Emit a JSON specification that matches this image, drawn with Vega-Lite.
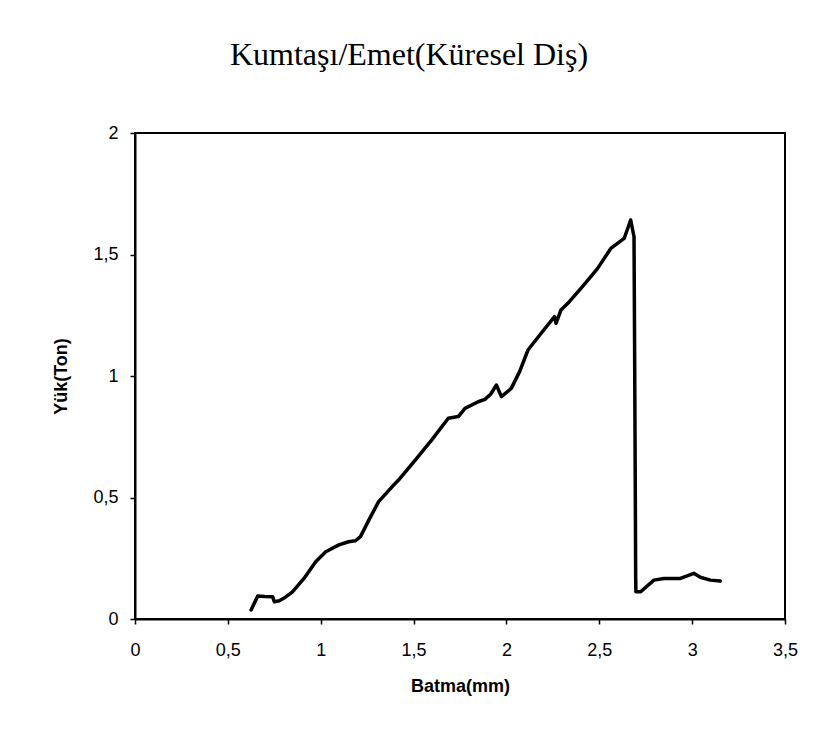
{
  "$schema": "https://vega.github.io/schema/vega-lite/v6.json",
  "width": 650,
  "height": 486,
  "autosize": {"type": "none"},
  "padding": {"left": 135, "top": 133, "right": 39, "bottom": 120},
  "background": "white",
  "title": {
    "text": "Kumtaşı/Emet(Küresel Diş)",
    "font": "Liberation Serif",
    "fontSize": 32,
    "fontWeight": "normal",
    "color": "black",
    "anchor": "middle",
    "dx": -51,
    "baseline": "alphabetic",
    "offset": 27
  },
  "config": {
    "view": {"stroke": "black", "strokeWidth": 2},
    "axis": {
      "grid": false,
      "domainColor": "black",
      "domainWidth": 2,
      "tickColor": "black",
      "tickSize": 5,
      "tickWidth": 1.5,
      "labelFont": "Liberation Sans",
      "labelFontSize": 18,
      "labelColor": "black",
      "titleFont": "Liberation Sans",
      "titleFontSize": 18,
      "titleFontWeight": "bold",
      "titleColor": "black"
    }
  },
  "data": {
    "values": [
      {"i": 1, "batma": 0.625, "yuk": 0.037},
      {"i": 2, "batma": 0.661, "yuk": 0.095},
      {"i": 3, "batma": 0.700, "yuk": 0.093},
      {"i": 4, "batma": 0.741, "yuk": 0.092},
      {"i": 5, "batma": 0.750, "yuk": 0.071},
      {"i": 6, "batma": 0.777, "yuk": 0.075},
      {"i": 7, "batma": 0.810, "yuk": 0.090},
      {"i": 8, "batma": 0.848, "yuk": 0.112},
      {"i": 9, "batma": 0.910, "yuk": 0.167},
      {"i": 10, "batma": 0.973, "yuk": 0.236},
      {"i": 11, "batma": 1.027, "yuk": 0.277},
      {"i": 12, "batma": 1.098, "yuk": 0.305},
      {"i": 13, "batma": 1.150, "yuk": 0.318},
      {"i": 14, "batma": 1.187, "yuk": 0.322},
      {"i": 15, "batma": 1.214, "yuk": 0.339},
      {"i": 16, "batma": 1.259, "yuk": 0.407},
      {"i": 17, "batma": 1.312, "yuk": 0.483},
      {"i": 18, "batma": 1.384, "yuk": 0.544},
      {"i": 19, "batma": 1.419, "yuk": 0.572},
      {"i": 20, "batma": 1.509, "yuk": 0.654},
      {"i": 21, "batma": 1.598, "yuk": 0.737},
      {"i": 22, "batma": 1.687, "yuk": 0.826},
      {"i": 23, "batma": 1.741, "yuk": 0.833},
      {"i": 24, "batma": 1.777, "yuk": 0.867},
      {"i": 25, "batma": 1.848, "yuk": 0.894},
      {"i": 26, "batma": 1.884, "yuk": 0.904},
      {"i": 27, "batma": 1.915, "yuk": 0.925},
      {"i": 28, "batma": 1.946, "yuk": 0.963},
      {"i": 29, "batma": 1.973, "yuk": 0.915},
      {"i": 30, "batma": 2.026, "yuk": 0.949},
      {"i": 31, "batma": 2.071, "yuk": 1.018},
      {"i": 32, "batma": 2.116, "yuk": 1.107},
      {"i": 33, "batma": 2.187, "yuk": 1.176},
      {"i": 34, "batma": 2.259, "yuk": 1.244},
      {"i": 35, "batma": 2.267, "yuk": 1.217},
      {"i": 36, "batma": 2.294, "yuk": 1.272},
      {"i": 37, "batma": 2.339, "yuk": 1.306},
      {"i": 38, "batma": 2.400, "yuk": 1.360},
      {"i": 39, "batma": 2.450, "yuk": 1.405},
      {"i": 40, "batma": 2.491, "yuk": 1.443},
      {"i": 41, "batma": 2.562, "yuk": 1.525},
      {"i": 42, "batma": 2.634, "yuk": 1.566},
      {"i": 43, "batma": 2.669, "yuk": 1.642},
      {"i": 44, "batma": 2.687, "yuk": 1.573},
      {"i": 45, "batma": 2.690, "yuk": 1.148},
      {"i": 46, "batma": 2.696, "yuk": 0.174},
      {"i": 47, "batma": 2.697, "yuk": 0.112},
      {"i": 48, "batma": 2.723, "yuk": 0.112},
      {"i": 49, "batma": 2.794, "yuk": 0.160},
      {"i": 50, "batma": 2.848, "yuk": 0.167},
      {"i": 51, "batma": 2.937, "yuk": 0.167},
      {"i": 52, "batma": 3.009, "yuk": 0.188},
      {"i": 53, "batma": 3.044, "yuk": 0.172},
      {"i": 54, "batma": 3.098, "yuk": 0.160},
      {"i": 55, "batma": 3.151, "yuk": 0.156}
    ]
  },
  "mark": {"type": "line", "color": "black", "strokeWidth": 3.5, "strokeJoin": "round", "strokeCap": "round"},
  "encoding": {
    "order": {"field": "i", "type": "quantitative"},
    "x": {
      "field": "batma",
      "type": "quantitative",
      "title": "Batma(mm)",
      "scale": {"domain": [0, 3.5], "nice": false, "zero": false},
      "axis": {
        "values": [0, 0.5, 1, 1.5, 2, 2.5, 3, 3.5],
        "format": "~g",
        "labelExpr": "replace(datum.label, '.', ',')",
        "labelPadding": 17,
        "titlePadding": 18,
        "labelFlush": false,
        "labelOverlap": false
      }
    },
    "y": {
      "field": "yuk",
      "type": "quantitative",
      "title": "Yük(Ton)",
      "scale": {"domain": [0, 2], "nice": false},
      "axis": {
        "values": [0, 0.5, 1, 1.5, 2],
        "format": "~g",
        "labelExpr": "replace(datum.label, '.', ',')",
        "labelPadding": 12,
        "titlePadding": 22,
        "labelFlush": false,
        "labelOverlap": false
      }
    }
  }
}
